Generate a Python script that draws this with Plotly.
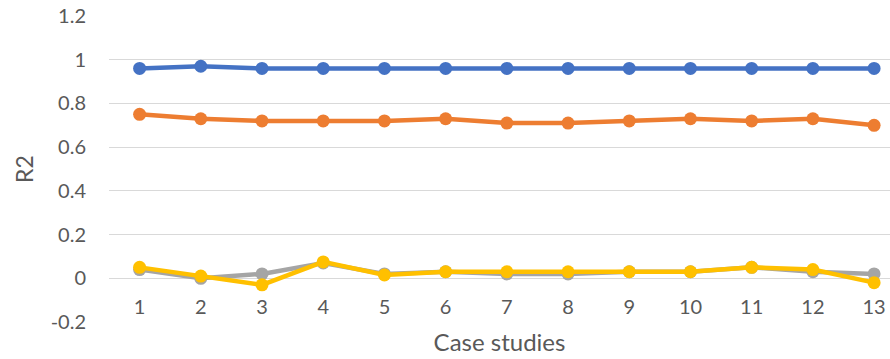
import plotly.graph_objects as go

# Case study labels and R2 values for each model
cases = ["1", "2", "3", "4", "5", "6", "7", "8", "9", "10", "11", "12", "13"]
series_blue = [0.96, 0.97, 0.96, 0.96, 0.96, 0.96, 0.96, 0.96, 0.96, 0.96, 0.96, 0.96, 0.96]
series_orange = [0.75, 0.73, 0.72, 0.72, 0.72, 0.73, 0.71, 0.71, 0.72, 0.73, 0.72, 0.73, 0.70]
series_gray = [0.04, 0.00, 0.02, 0.07, 0.02, 0.03, 0.02, 0.02, 0.03, 0.03, 0.05, 0.03, 0.02]
series_yellow = [0.05, 0.01, -0.03, 0.075, 0.015, 0.03, 0.03, 0.03, 0.03, 0.03, 0.05, 0.04, -0.02]
y_ticks = [-0.2, 0, 0.2, 0.4, 0.6, 0.8, 1, 1.2]
y_tick_text = ["-0.2", "0", "0.2", "0.4", "0.6", "0.8", "1", "1.2"]

FONT = "Lato"
TEXT = "#595959"

fig = go.Figure()
for vals, color in [
    (series_blue, "#4472C4"),
    (series_orange, "#ED7D31"),
    (series_gray, "#A5A5A5"),
    (series_yellow, "#FFC000"),
]:
    fig.add_trace(go.Scatter(
        x=cases, y=vals, mode="lines+markers",
        line=dict(color=color, width=4.5),
        marker=dict(color=color, size=13),
        showlegend=False,
    ))

fig.update_layout(
    width=890, height=359,
    margin=dict(l=109, r=0, t=16, b=37),
    paper_bgcolor="white", plot_bgcolor="white",
    font=dict(family=FONT, color=TEXT, size=20),
    xaxis=dict(
        type="category",
        range=[-0.5, 12.26],
        anchor="free",
        position=0.2 / 1.4,
        showgrid=False, showline=False, zeroline=False,
        ticks="", ticklabelstandoff=15,
        tickfont=dict(size=20, color=TEXT),
        title=dict(text="Case studies", font=dict(size=24, color=TEXT), standoff=16),
        automargin=False,
    ),
    yaxis=dict(
        range=[-0.2, 1.2],
        tickvals=y_ticks, ticktext=y_tick_text,
        showgrid=True, gridcolor="#D9D9D9", gridwidth=1.3,
        zeroline=False, showline=False,
        ticks="", ticklabelstandoff=22,
        tickfont=dict(size=20, color=TEXT),
        title=dict(text="R2", font=dict(size=23, color=TEXT), standoff=10),
        automargin=False,
    ),
)

fig.write_html("out.html")
